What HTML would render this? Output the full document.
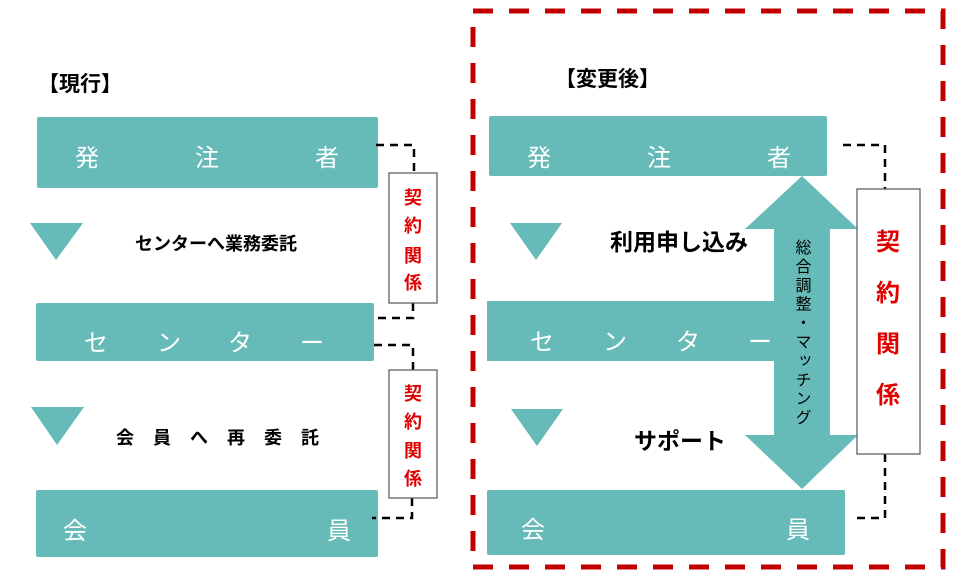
<!DOCTYPE html>
<html><head><meta charset="utf-8"><style>
html,body{margin:0;padding:0;background:#fff;}
svg{display:block;}
text{font-family:"Liberation Sans","Noto Sans CJK JP",sans-serif;}
</style></head><body>
<svg width="960" height="573" viewBox="0 0 960 573" xmlns="http://www.w3.org/2000/svg">
<!-- LEFT -->
<text x="38" y="91" font-size="21" font-weight="bold" fill="#000">【現行】</text>
<rect x="37" y="117" width="341" height="71" rx="2" fill="#66bab7"/>
<g fill="#fff" font-size="24" text-anchor="middle">
<text x="87" y="166">発</text><text x="207" y="166">注</text><text x="327" y="166">者</text>
</g>
<polygon points="30,223 83,223 56,260" fill="#66bab7"/>
<text x="216" y="250" font-size="18" font-weight="bold" text-anchor="middle" fill="#000">センターへ業務委託</text>
<rect x="36" y="303" width="338" height="58" rx="2" fill="#66bab7"/>
<g fill="#fff" font-size="24" text-anchor="middle">
<text x="96" y="351">セ</text><text x="169" y="351">ン</text><text x="240" y="351">タ</text><text x="312" y="351">ー</text>
</g>
<polygon points="31,407 84,407 57,445" fill="#66bab7"/>
<g font-size="18" font-weight="bold" fill="#000" text-anchor="middle">
<text x="125" y="444">会</text><text x="162" y="444">員</text><text x="199" y="444">へ</text><text x="236" y="444">再</text><text x="273" y="444">委</text><text x="310" y="444">託</text>
</g>
<rect x="36" y="490" width="342" height="67" rx="2" fill="#66bab7"/>
<g fill="#fff" font-size="24" text-anchor="middle">
<text x="75" y="539">会</text><text x="339" y="539">員</text>
</g>
<g fill="none" stroke="#000" stroke-width="2.5" stroke-dasharray="8,6">
<polyline points="376,145 414,145 414,173"/>
<polyline points="413,303 413,318 374,318"/>
<polyline points="374,345 413,345 413,370"/>
<polyline points="412,498 412,518 372,518"/>
</g>
<rect x="389" y="173" width="48" height="130" fill="#fff" stroke="#555" stroke-width="1.2"/>
<rect x="389" y="370" width="48" height="128" fill="#fff" stroke="#555" stroke-width="1.2"/>
<g fill="#e00000" font-size="18" font-weight="bold" text-anchor="middle">
<text x="413" y="204">契</text><text x="413" y="232">約</text><text x="413" y="262">関</text><text x="413" y="289">係</text>
<text x="413" y="400">契</text><text x="413" y="428">約</text><text x="413" y="457">関</text><text x="413" y="485">係</text>
</g>
<!-- RIGHT frame -->
<rect x="473" y="11" width="470" height="556" fill="none" stroke="#c00000" stroke-width="5" stroke-dasharray="20,16"/>
<text x="555" y="86" font-size="21" font-weight="bold" fill="#000">【変更後】</text>
<rect x="489" y="116" width="338" height="60" rx="2" fill="#66bab7"/>
<g fill="#fff" font-size="24" text-anchor="middle">
<text x="539" y="166">発</text><text x="659" y="166">注</text><text x="779" y="166">者</text>
</g>
<polygon points="510,223 562,223 536,260" fill="#66bab7"/>
<text x="679" y="250" font-size="23" font-weight="bold" text-anchor="middle" fill="#000">利用申し込み</text>
<rect x="487" y="301" width="290" height="60" fill="#66bab7"/>
<g fill="#fff" font-size="24" text-anchor="middle">
<text x="542" y="350">セ</text><text x="615" y="350">ン</text><text x="688" y="350">タ</text><text x="760" y="350">ー</text>
</g>
<polygon points="511,409 563,409 537,446" fill="#66bab7"/>
<text x="680" y="449" font-size="23" font-weight="bold" text-anchor="middle" fill="#000">サポート</text>
<rect x="487" y="490" width="358" height="65" rx="2" fill="#66bab7"/>
<g fill="#fff" font-size="24" text-anchor="middle">
<text x="533" y="538">会</text><text x="798" y="538">員</text>
</g>
<polygon points="802,176 858,229 830,229 830,435 858,435 802,489 745,435 774,435 774,229 745,229" fill="#66bab7"/>
<text x="801" y="239" font-size="16" fill="#000" style="writing-mode:tb;glyph-orientation-vertical:0" writing-mode="tb" text-anchor="start" textLength="186" lengthAdjust="spacing">総合調整・マッチング</text>
<g fill="none" stroke="#000" stroke-width="2.5" stroke-dasharray="8,6">
<polyline points="843,145 885,145 885,189"/>
<polyline points="885,454 885,518 857,518"/>
</g>
<rect x="857" y="189" width="63" height="265" fill="#fff" stroke="#555" stroke-width="1.2"/>
<g fill="#e00000" font-size="24" font-weight="bold" text-anchor="middle">
<text x="888" y="250">契</text><text x="888" y="301">約</text><text x="888" y="352">関</text><text x="888" y="403">係</text>
</g>
</svg>
</body></html>
